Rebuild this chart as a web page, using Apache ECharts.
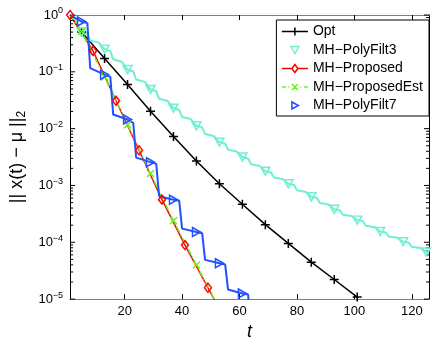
<!DOCTYPE html>
<html>
<head>
<meta charset="utf-8">
<script src="https://cdn.jsdelivr.net/npm/echarts@6/dist/echarts.min.js"></script>
<style>html,body{margin:0;padding:0;background:#fff}#main{width:436px;height:346px}</style>
</head>
<body>
<div id="main"></div>
<script>
// values are read as powers of ten (log10 of the error)
var optT = [1, 5, 13, 21, 29, 37, 45, 53, 61, 69, 77, 85, 93, 101];
var optExp = [0, -0.30, -0.764, -1.224, -1.695, -2.14, -2.57, -2.97, -3.33, -3.69, -4.02, -4.35, -4.655, -4.965];
var optMarks = [5, 13, 21, 29, 37, 45, 53, 61, 69, 77, 85, 93, 101];

var pf3T = [1, 2.5, 3.5, 5, 7, 8, 11, 13, 15, 16, 19, 21, 23, 24, 27, 29, 31, 32, 35, 37,
    39, 40, 43, 45, 47, 48, 51, 53, 55, 56, 59, 61, 63, 64, 67, 69, 71, 72, 75, 77,
    79, 80, 83, 85, 87, 88, 91, 93, 95, 96, 99, 101, 103, 104, 107, 109, 111, 112, 115, 117,
    119, 120, 123, 125, 126];
var pf3Exp = [0, -0.04, -0.17, -0.30, -0.33, -0.45, -0.486, -0.60, -0.636, -0.78, -0.823, -0.96, -0.995, -1.135, -1.177, -1.31, -1.343, -1.475, -1.515, -1.64,
    -1.671, -1.795, -1.832, -1.95, -1.979, -2.095, -2.13, -2.24, -2.266, -2.37, -2.401, -2.50, -2.525, -2.625, -2.655, -2.75, -2.772, -2.86, -2.886, -2.97,
    -2.993, -3.085, -3.113, -3.20, -3.222, -3.31, -3.336, -3.42, -3.439, -3.515, -3.538, -3.61, -3.63, -3.71, -3.734, -3.81, -3.828, -3.90, -3.922, -3.99,
    -4.008, -4.08, -4.102, -4.17, -4.18];
var pf3Marks = [5, 13, 21, 29, 37, 45, 53, 61, 69, 77, 85, 93, 101, 109, 117, 125];

var propT = [1, 9, 17, 25, 33, 41, 49, 57];
var propExp = [0, -0.633, -1.51, -2.38, -3.25, -4.05, -4.80, -5.55];
var propMarks = [1, 9, 17, 25, 33, 41, 49];

var estT = [1, 5, 13, 21, 29, 37, 45, 53];
var estExp = [0, -0.29, -1.09, -1.93, -2.79, -3.62, -4.40, -5.17];
var estMarks = [5, 13, 21, 29, 37, 45];

var pf7T = [1, 5, 7, 8, 13, 15, 16, 21, 23, 24, 29, 31, 32, 37, 39, 40, 45, 47, 48, 53, 55, 56, 61, 63, 64];
var pf7Exp = [0, -0.115, -0.143, -0.936, -1.05, -1.09, -1.75, -1.84, -1.90, -2.51, -2.59, -2.62, -3.19, -3.25, -3.27, -3.76, -3.82, -3.84, -4.31, -4.37, -4.39, -4.83, -4.90, -4.92, -5.6];
var pf7Marks = [5, 13, 21, 29, 37, 45, 53, 61];

var xTicks = [20, 40, 60, 80, 100, 120];
var yTicks = [1e-5, 1e-4, 1e-3, 1e-2, 1e-1, 1];
var yTickExp = ['\u22125', '\u22124', '\u22123', '\u22122', '\u22121', '0'];
var minorMult = [2, 3, 4, 5, 6, 7, 8, 9];

var FONT = 'Liberation Sans';
var cOpt = '#000000', cPf3 = '#70EFD3', cProp = '#FF0000', cEst = '#6CF020', cPf7 = '#2050FF';

// y tick marks (major length 5, minor length 3), drawn on both sides of the box
var yTickData = yTicks.map(function (v) { return [1, v, 5]; });
yTicks.slice(0, 5).forEach(function (d) {
    minorMult.forEach(function (m) { yTickData.push([1, m * d, 3]); });
});

function toPoints(ts, exps) {
    return ts.map(function (t, i) { return [t, Math.pow(10, exps[i])]; });
}
function markAt(list, sym) {
    return function (v) { return list.indexOf(v[0]) >= 0 ? sym : 'none'; };
}

var symPlus = 'path://M0,5L10,5M5,0L5,10';
var symDown = 'path://M0,0L10,0L5,9Z';
var symCross = 'path://M0,0L10,10M10,0L0,10';
var symRight = 'path://M0,0L9,5L0,10Z';

function lineSeries(name, data, color, width, marks, sym, size, dash) {
    return {
        name: name, type: 'line', data: data,
        symbol: markAt(marks, sym), symbolSize: size,
        lineStyle: { color: color, width: width, type: dash || 'solid' },
        itemStyle: { color: 'rgba(0,0,0,0)', borderColor: color, borderWidth: 1.5 },
        emphasis: { disabled: true },
        clip: true
    };
}

var myChart = echarts.init(document.getElementById('main'));

var option = {
    animation: false,
    grid: { left: 67, right: 7, top: 15, bottom: 41 },
    xAxis: [
        {
            type: 'value', min: 1, max: 126, position: 'bottom',
            splitLine: { show: false },
            axisLine: { lineStyle: { color: '#808080', width: 1 } },
            axisTick: { inside: true, length: 5, customValues: xTicks, lineStyle: { color: '#000' } },
            axisLabel: { customValues: xTicks, margin: 6, color: '#000', fontSize: 13, fontFamily: FONT },
            name: 't', nameLocation: 'middle', nameGap: 17,
            nameTextStyle: { fontSize: 18, fontStyle: 'italic', fontFamily: FONT, color: '#000' }
        },
        {
            type: 'value', min: 1, max: 126, position: 'top',
            splitLine: { show: false },
            axisLine: { lineStyle: { color: '#808080', width: 1 } },
            axisTick: { inside: true, length: 5, customValues: xTicks, lineStyle: { color: '#000' } },
            axisLabel: { show: false }
        }
    ],
    yAxis: [
        {
            type: 'log', logBase: 10, min: 1e-5, max: 1, position: 'left',
            splitLine: { show: false },
            axisLine: { show: true, lineStyle: { color: '#000', width: 1 } },
            axisTick: { show: false },
            axisLabel: {
                customValues: yTicks, margin: 7,
                formatter: function (v) {
                    var i = yTicks.findIndex(function (t) { return Math.abs(Math.log10(t) - Math.log10(v)) < 1e-6; });
                    return '{b|10}{s|' + yTickExp[i] + '}';
                },
                rich: {
                    b: { fontSize: 13, fontFamily: FONT, color: '#000' },
                    s: { fontSize: 9, fontFamily: FONT, color: '#000', padding: [0, 0, 8, 0] }
                }
            },
            name: '|| x(t) \u2212 \u03bc ||{b|2}', nameLocation: 'middle', nameGap: 36, nameRotate: 90,
            nameTextStyle: {
                fontSize: 18, fontFamily: FONT, color: '#000',
                rich: { b: { fontSize: 12, fontFamily: FONT, color: '#000', padding: [9, 0, 0, 0] } }
            }
        },
        {
            type: 'log', logBase: 10, min: 1e-5, max: 1, position: 'right',
            splitLine: { show: false },
            axisLine: { show: true, lineStyle: { color: '#000', width: 1 } },
            axisTick: { show: false },
            axisLabel: { show: false }
        }
    ],
    legend: {
        orient: 'vertical', right: 7, top: 20,
        padding: [4, 6, 3, 3], itemGap: 3.5, itemWidth: 26, itemHeight: 10,
        symbolKeepAspect: false,
        backgroundColor: '#fff', borderColor: '#000', borderWidth: 1,
        textStyle: { fontSize: 14, lineHeight: 14, fontFamily: FONT, color: '#000' },
        data: [
            { name: 'Opt', icon: 'path://M0,0M26,10M0,5L26,5M13,1L13,9',
              itemStyle: { color: 'none', borderColor: cOpt, borderWidth: 1.5 } },
            { name: 'MH\u2212PolyFilt3', icon: 'path://M0,0M26,10M9,1.5L17,1.5L13,8.5Z',
              itemStyle: { color: 'none', borderColor: cPf3, borderWidth: 1.5 } },
            { name: 'MH\u2212Proposed', icon: 'path://M0,0M26,10M0,5L10,5M16,5L26,5M13,1L16,5L13,9L10,5Z',
              itemStyle: { color: 'none', borderColor: cProp, borderWidth: 1.5 } },
            { name: 'MH\u2212ProposedEst', icon: 'path://M0,0M26,10M0,5L4,5M6.5,5L7.5,5M18.5,5L19.5,5M22,5L26,5M10,2L16,8M16,2L10,8',
              itemStyle: { color: 'none', borderColor: cEst, borderWidth: 1.5 } },
            { name: 'MH\u2212PolyFilt7', icon: 'path://M0,0M26,10M10,1.5L16.5,5L10,8.5Z',
              itemStyle: { color: 'none', borderColor: cPf7, borderWidth: 1.5 } }
        ]
    },
    series: [
        {
            type: 'custom', name: 'yticks', data: yTickData, silent: true, clip: false,
            encode: { x: 0, y: 1 }, z: 1,
            renderItem: function (params, api) {
                var y = api.coord([api.value(0), api.value(1)])[1];
                var len = api.value(2);
                var cs = params.coordSys;
                var l = cs.x, r = cs.x + cs.width;
                return {
                    type: 'group', children: [
                        { type: 'line', shape: { x1: l, y1: y, x2: l + len, y2: y }, style: { stroke: '#000', lineWidth: 1 } },
                        { type: 'line', shape: { x1: r - len, y1: y, x2: r, y2: y }, style: { stroke: '#000', lineWidth: 1 } }
                    ]
                };
            }
        },
        lineSeries('Opt', toPoints(optT, optExp), cOpt, 1.5, optMarks, symPlus, 9),
        lineSeries('MH\u2212PolyFilt3', toPoints(pf3T, pf3Exp), cPf3, 2, pf3Marks, symDown, [9, 8]),
        lineSeries('MH\u2212Proposed', toPoints(propT, propExp), cProp, 1.5, propMarks, 'diamond', [7, 9]),
        lineSeries('MH\u2212ProposedEst', toPoints(estT, estExp), cEst, 1.5, estMarks, symCross, 7, [6, 2.5, 1.5, 2.5]),
        lineSeries('MH\u2212PolyFilt7', toPoints(pf7T, pf7Exp), cPf7, 2, pf7Marks, symRight, [8, 9])
    ]
};

myChart.setOption(option);
</script>
</body>
</html>
